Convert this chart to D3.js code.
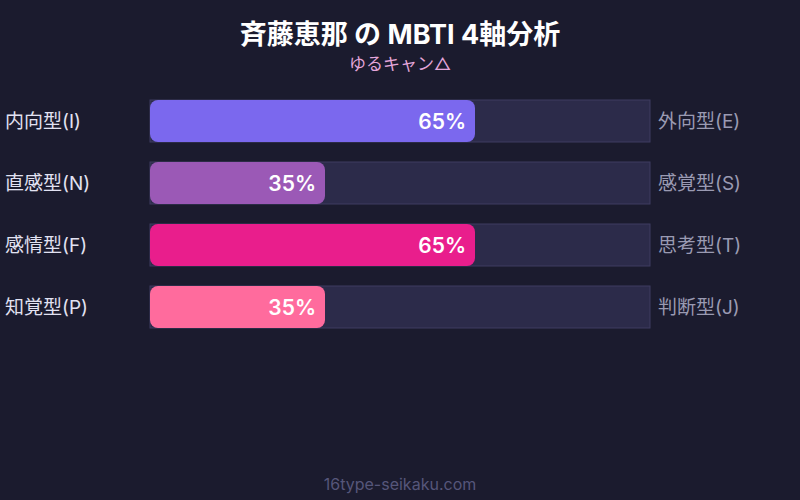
<!DOCTYPE html>
<html>
<head>
<meta charset="utf-8">
<script src="https://cdn.jsdelivr.net/npm/d3@7"></script>
<style>
  html, body { margin: 0; padding: 0; background: #1b1b2e; }
  #svg-container { width: 800px; height: 500px; }
  text { font-family: Inter, "Noto Sans CJK JP", sans-serif; }
</style>
</head>
<body>
<div id="svg-container"></div>
<script>
////////////////////////////////////////////////////////////////////
////////////////////////////  Data  ////////////////////////////////
const leftLabels = ["内向型(I)", "直感型(N)", "感情型(F)", "知覚型(P)"];
const rightLabels = ["外向型(E)", "感覚型(S)", "思考型(T)", "判断型(J)"];
const values = [65, 35, 65, 35];
const barColors = ["#7b68ee", "#9b59b6", "#e91e8c", "#ff6b9d"];

////////////////////////////////////////////////////////////////////
////////////////////////////  Init  ///////////////////////////////
const width = 800;
const height = 500;
const margin = { top: 100, right: 150, left: 150 };

const svg = d3
  .select("#svg-container")
  .append("svg")
  .attr("width", width)
  .attr("height", height);

svg.append("rect").attr("width", width).attr("height", height).attr("fill", "#1b1b2e");

// scale
const xScale = d3.scaleLinear().domain([0, 100]).range([margin.left, width - margin.right]);
// 4 rows, 42px bars, 20px gaps
const yScale = d3
  .scaleBand()
  .domain(d3.range(values.length))
  .range([margin.top, margin.top + 62 * values.length - 20])
  .paddingInner(20 / 62)
  .paddingOuter(0);

// title
svg
  .append("text")
  .attr("x", width / 2)
  .attr("y", 44)
  .attr("text-anchor", "middle")
  .attr("fill", "#ffffff")
  .attr("font-size", 27)
  .attr("font-weight", "bold")
  .text("斉藤恵那 の MBTI 4軸分析");

svg
  .append("text")
  .attr("x", width / 2)
  .attr("y", 70)
  .attr("text-anchor", "middle")
  .attr("fill", "#e4a6da")
  .attr("font-size", 17)
  .text("ゆるキャン△");

// rows
const rows = svg
  .selectAll("g.row")
  .data(values)
  .join("g")
  .attr("class", "row");

// track
rows
  .append("rect")
  .attr("x", xScale(0))
  .attr("y", (d, i) => yScale(i))
  .attr("width", xScale(100) - xScale(0))
  .attr("height", yScale.bandwidth())
  .attr("fill", "#2c2b4a")
  .attr("stroke", "#3e3d60")
  .attr("stroke-width", 1);

// bar
rows
  .append("rect")
  .attr("x", xScale(0))
  .attr("y", (d, i) => yScale(i))
  .attr("width", (d) => xScale(d) - xScale(0))
  .attr("height", yScale.bandwidth())
  .attr("rx", 8)
  .attr("fill", (d, i) => barColors[i]);

// percent
rows
  .append("text")
  .attr("x", (d) => xScale(d) - 9)
  .attr("y", (d, i) => yScale(i) + yScale.bandwidth() / 2)
  .attr("dy", "0.36em")
  .attr("text-anchor", "end")
  .attr("fill", "#ffffff")
  .attr("font-size", 21)
  .attr("font-weight", 600)
  .text((d) => d + "%");

// labels
rows
  .append("text")
  .attr("x", 5)
  .attr("y", (d, i) => yScale(i) + yScale.bandwidth() / 2)
  .attr("dy", "0.36em")
  .attr("fill", "#e2e2f2")
  .attr("font-size", 19)
  .text((d, i) => leftLabels[i]);

rows
  .append("text")
  .attr("x", xScale(100) + 8)
  .attr("y", (d, i) => yScale(i) + yScale.bandwidth() / 2)
  .attr("dy", "0.36em")
  .attr("fill", "#9a9ab2")
  .attr("font-size", 19)
  .text((d, i) => rightLabels[i]);

// footer
svg
  .append("text")
  .attr("x", width / 2)
  .attr("y", 490)
  .attr("text-anchor", "middle")
  .attr("fill", "#56567a")
  .attr("font-size", 16)
  .text("16type-seikaku.com");
</script>
</body>
</html>
